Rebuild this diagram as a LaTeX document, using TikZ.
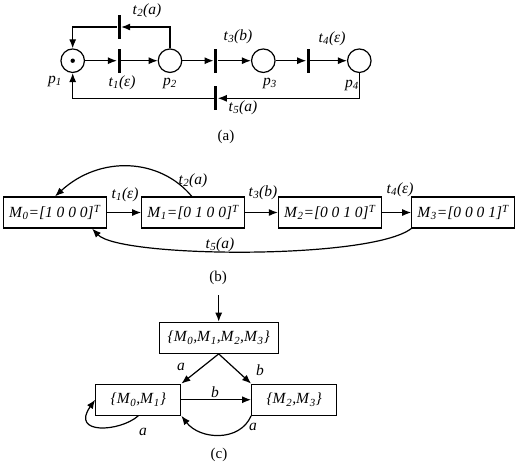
\documentclass[tikz,border=0pt]{standalone}
\usepackage{fontspec}
\setmainfont{Liberation Serif}
\usetikzlibrary{arrows.meta,positioning}
\newcommand{\trn}[2]{\textit{t}\textsubscript{\textit{#1}}\textit{(#2)}}
\newcommand{\mk}[1]{\textit{M}\textsubscript{\textit{#1}}}
\newcommand{\pl}[1]{\textit{p}\textsubscript{\textit{#1}}}

\begin{document}
\begin{tikzpicture}[x=1pt,y=-1pt,>={Latex[length=9pt,width=7pt]},line width=1.2pt,
    font=\fontsize{15.5}{18}\selectfont,
    place/.style={circle,draw,minimum size=23.5pt,inner sep=0pt},
    trans/.style={rectangle,fill=black,minimum width=3pt,minimum height=24pt,inner sep=0pt},
    mbox/.style={rectangle,draw,minimum width=103pt,minimum height=31pt,inner sep=1pt,
      font=\fontsize{15.5}{19}\selectfont},
    sbox/.style={rectangle,draw,minimum height=31pt,inner sep=1pt},
    captxt/.style={font=\fontsize{15}{18}\selectfont}]
  \useasboundingbox (0,0) rectangle (521,467);
  % (a) the net
  \foreach \n/\x in {1/72.7,2/170,3/263.3,4/359.3}
    \node[place] (p\n) at (\x,60.7) {};
  \fill (p1) circle (2.2pt);
  \foreach \n/\x/\y in {1/119/60.7,2/119/27,3/215.7/60.7,4/308.3/60.7,5/215.7/98.3}
    \node[trans] (t\n) at (\x,\y) {};
  \foreach \a/\b in {p1/t1,t1/p2,p2/t3,t3/p3,p3/t4,t4/p4}
    \draw[->] (\a) -- (\b);
  \draw[->] (p2.north) |- (t2);
  \draw[->] (t2) -| (p1);
  \draw[->] (p4.south) |- (t5);
  \draw[->] (t5) -| (p1);
  \node (lt2) at (147,11) {\trn{2}{a}};
  \node (lt1) at (122,83) {\trn{1}{ε}};
  \node (lp1) at (55,81) {\pl{1}};
  \node (lp2) at (170,83) {\pl{2}};
  \node (lt3) at (238,37) {\trn{3}{b}};
  \node (lp3) at (270,83) {\pl{3}};
  \node (lt4) at (332,39) {\trn{4}{ε}};
  \node (lp4) at (352,85) {\pl{4}};
  \node (lt5) at (243,108) {\trn{5}{a}};
  \node[captxt] (capa) at (226,137) {(a)};
  % (b) reachability graph
  \node[mbox] (M0) at (55,212.5) {\mk{0}\textit{=[1 0 0 0]}\textsuperscript{\textit{T}}};
  \node[mbox] (M1) at (193.3,212.5) {\mk{1}\textit{=[0 1 0 0]}\textsuperscript{\textit{T}}};
  \node[mbox] (M2) at (330,212.5) {\mk{2}\textit{=[0 0 1 0]}\textsuperscript{\textit{T}}};
  \node[mbox] (M3) at (463.3,212.5) {\mk{3}\textit{=[0 0 0 1]}\textsuperscript{\textit{T}}};
  \draw[->] (M0) -- (M1);
  \draw[->] (M1) -- (M2);
  \draw[->] (M2) -- (M3);
  \draw[->] ([xshift=-1.5pt]M1.north) .. controls (160,158) and (100,155) .. (M0.north);
  \draw[->] (M3.south west) .. controls (370,260) and (120,258) .. ([xshift=-15pt]M0.south east);
  \node (lb1) at (125,195) {\trn{1}{ε}};
  \node (lb2) at (193,181) {\trn{2}{a}};
  \node (lb3) at (263,193) {\trn{3}{b}};
  \node (lb4) at (400,190) {\trn{4}{ε}};
  \node (lb5) at (220,245) {\trn{5}{a}};
  \node[captxt] (capb) at (218,278) {(b)};
  % (c) observer
  \coordinate (init) at (218.7,295);
  \node[sbox,minimum width=119pt] (S) at (218.7,337.8)
    {\textit{\{}\mk{0}\textit{,}\mk{1}\textit{,}\mk{2}\textit{,}\mk{3}\textit{\}}};
  \node[sbox,minimum width=85pt] (L) at (138.3,399.7) {\textit{\{}\mk{0}\textit{,}\mk{1}\textit{\}}};
  \node[sbox,minimum width=85pt] (R) at (294.2,399.7) {\textit{\{}\mk{2}\textit{,}\mk{3}\textit{\}}};
  \draw[->] (init) -- (S);
  \draw[->] (S.south) -- (L.north east);
  \draw[->] (S.south) -- (R.north west);
  \draw[->] (L) -- (R);
  \draw[->] (R.south west) .. controls (240,442) and (200,440) .. (L.south east);
  \draw[->] (L.south) .. controls (120,432) and (70,435) .. (L.west);
  \node (lc1) at (181,367) {\textit{a}};
  \node (lc2) at (260,370) {\textit{b}};
  \node (lc3) at (215,392) {\textit{b}};
  \node (lc4) at (253,427) {\textit{a}};
  \node (lc5) at (143,432) {\textit{a}};
  \node[captxt] (capc) at (219,455) {(c)};
\end{tikzpicture}
\end{document}
